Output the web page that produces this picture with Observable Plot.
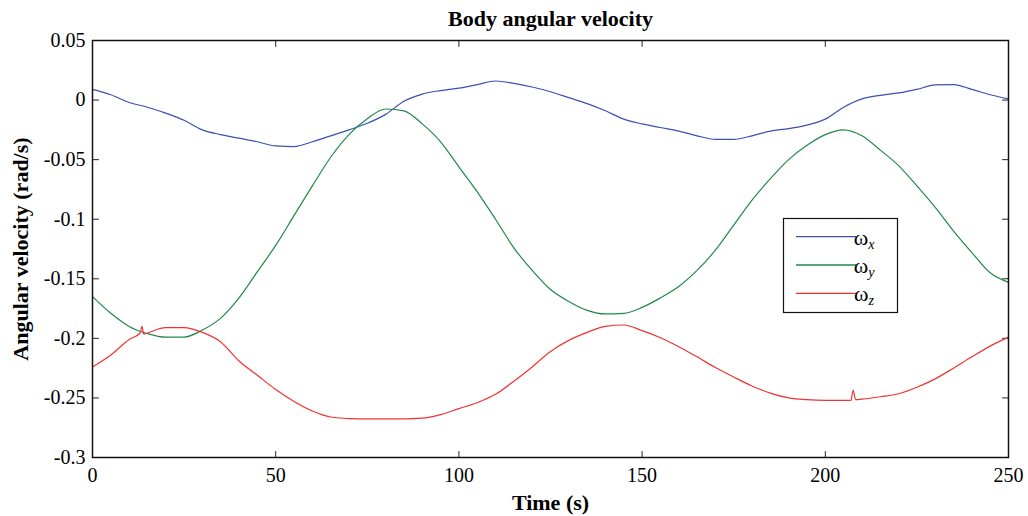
<!DOCTYPE html>
<html>
<head>
<meta charset="utf-8">
<script src="https://cdn.jsdelivr.net/npm/d3@7"></script>
<script src="https://cdn.jsdelivr.net/npm/@observablehq/plot@0.6"></script>
<style>
  html, body { margin: 0; padding: 0; background: #fff; }
  #chart svg { display: block; }
</style>
</head>
<body>
<div id="chart"></div>
<script>
const titleText = "Body angular velocity";
const xLabel = "Time (s)";
const yLabel = "Angular velocity (rad/s)";
const xTicks = [0, 50, 100, 150, 200, 250];
const yTicks = [0.05, 0, -0.05, -0.1, -0.15, -0.2, -0.25, -0.3];
const seriesNames = ["x", "y", "z"];
const seriesColors = ["#3c50b4", "#1f8a48", "#f03232"];

// time grid (s) for ωx and ωy
const tGrid = [0,5,10,15,20,25,30,35,40,45,50,55,60,65,70,75,80,85,90,95,100,105,110,115,120,125,130,135,140,145,150,155,160,165,170,175,180,185,190,195,200,205,210,215,220,225,230,235,240,245,250];
const wx = [0.009,0.0045,-0.002,-0.006,-0.011,-0.017,-0.025,-0.029,-0.032,-0.035,-0.0385,-0.039,-0.035,-0.030,-0.025,-0.0195,-0.012,-0.001,0.005,0.008,0.010,0.013,0.016,0.014,0.011,0.007,0.002,-0.003,-0.009,-0.016,-0.020,-0.023,-0.026,-0.030,-0.033,-0.033,-0.030,-0.026,-0.024,-0.021,-0.016,-0.006,0.001,0.004,0.006,0.009,0.0127,0.013,0.009,0.0045,0.001];
const wy = [-0.165,-0.179,-0.190,-0.196,-0.199,-0.199,-0.193,-0.183,-0.166,-0.144,-0.122,-0.097,-0.072,-0.048,-0.029,-0.0157,-0.0075,-0.009,-0.020,-0.035,-0.056,-0.077,-0.100,-0.124,-0.143,-0.159,-0.169,-0.1765,-0.1795,-0.179,-0.174,-0.166,-0.1565,-0.143,-0.126,-0.105,-0.084,-0.066,-0.050,-0.038,-0.029,-0.025,-0.030,-0.042,-0.055,-0.072,-0.090,-0.110,-0.128,-0.145,-0.153];
// ωz has its own time samples (two short spikes)
const tz = [0,5,10,13,13.5,14,15,20,25,30,35,40,45,50,55,60,65,70,75,80,85,90,95,100,105,110,115,120,125,130,135,140,145,150,155,160,165,170,175,180,185,190,195,200,205,207,207.6,208.3,210,215,220,225,230,235,240,245,250];
const wz = [-0.224,-0.214,-0.201,-0.1955,-0.190,-0.1965,-0.1955,-0.191,-0.191,-0.195,-0.203,-0.219,-0.231,-0.243,-0.253,-0.261,-0.266,-0.2673,-0.2675,-0.2675,-0.2675,-0.267,-0.264,-0.259,-0.254,-0.247,-0.236,-0.224,-0.211,-0.2017,-0.195,-0.190,-0.1888,-0.1935,-0.1995,-0.207,-0.2155,-0.2245,-0.2325,-0.240,-0.246,-0.250,-0.2515,-0.252,-0.252,-0.252,-0.2436,-0.2515,-0.251,-0.249,-0.2465,-0.241,-0.234,-0.225,-0.2155,-0.2065,-0.199];

const rows = [
  ...tGrid.map((t, i) => ({t, v: wx[i], s: "x"})),
  ...tGrid.map((t, i) => ({t, v: wy[i], s: "y"})),
  ...tz.map((t, i) => ({t, v: wz[i], s: "z"}))
];

const serif = "'Liberation Serif', 'Times New Roman', serif";
const tickLen = 6;
const tickShape = { draw(ctx, l) { ctx.moveTo(0, 0); ctx.lineTo(0, -l); } };

const chart = Plot.plot({
  width: 1028,
  height: 516,
  marginLeft: 92,
  marginRight: 20,
  marginTop: 40,
  marginBottom: 59,
  style: { fontFamily: serif, fontSize: "20px", color: "#000", background: "#fff", overflow: "visible" },
  x: { domain: [0, 250] },
  y: { domain: [-0.3, 0.05] },
  color: { domain: seriesNames, range: seriesColors },
  marks: [
    Plot.axisX({ ticks: xTicks, tickSize: 0, tickPadding: 10, tickFormat: d => String(d), label: null, fontSize: 20 }),
    Plot.axisY({ ticks: yTicks, tickSize: 0, tickPadding: 7, tickFormat: d => String(d), label: null, fontSize: 20 }),
    // inward ticks on all four sides
    Plot.vector(xTicks, { x: d => d, frameAnchor: "bottom", length: tickLen, rotate: 0, anchor: "start", shape: tickShape, stroke: "#222", strokeWidth: 1 }),
    Plot.vector(xTicks, { x: d => d, frameAnchor: "top", length: tickLen, rotate: 180, anchor: "start", shape: tickShape, stroke: "#222", strokeWidth: 1 }),
    Plot.vector(yTicks, { y: d => d, frameAnchor: "left", length: tickLen, rotate: 90, anchor: "start", shape: tickShape, stroke: "#222", strokeWidth: 1 }),
    Plot.vector(yTicks, { y: d => d, frameAnchor: "right", length: tickLen, rotate: -90, anchor: "start", shape: tickShape, stroke: "#222", strokeWidth: 1 }),
    Plot.line(rows, { x: "t", y: "v", z: "s", stroke: "s", strokeWidth: 1.2, curve: "monotone-x" }),
    Plot.frame({ stroke: "#111", strokeWidth: 1.5 }),
    Plot.text([titleText], { frameAnchor: "top", dy: -15, lineAnchor: "bottom", textAnchor: "middle", fontWeight: "bold", fontSize: 22 }),
    Plot.text([xLabel], { frameAnchor: "bottom", dy: 52, lineAnchor: "bottom", textAnchor: "middle", fontWeight: "bold", fontSize: 22 }),
    Plot.text([yLabel], { frameAnchor: "left", dx: -72, rotate: -90, lineAnchor: "middle", textAnchor: "middle", fontWeight: "bold", fontSize: 22 })
  ]
});

document.getElementById("chart").appendChild(chart);

// legend box (MATLAB style)
const svg = d3.select(chart);
const lg = svg.append("g").attr("font-family", serif);
lg.append("rect").attr("x", 783.5).attr("y", 218.5).attr("width", 114).attr("height", 94)
  .attr("fill", "#fff").attr("stroke", "#111").attr("stroke-width", 1.2);
seriesNames.forEach((s, i) => {
  const yy = 236.7 + i * 28.3;
  lg.append("line").attr("x1", 796).attr("x2", 856).attr("y1", yy).attr("y2", yy)
    .attr("stroke", seriesColors[i]).attr("stroke-width", 1.3);
  const t = lg.append("text").attr("x", 864).attr("y", yy + 8).attr("font-size", 22).attr("fill", "#000");
  t.append("tspan").text("ω");
  t.append("tspan").attr("font-size", 14).attr("font-style", "italic").attr("dy", 4).text(s);
});
</script>
</body>
</html>
